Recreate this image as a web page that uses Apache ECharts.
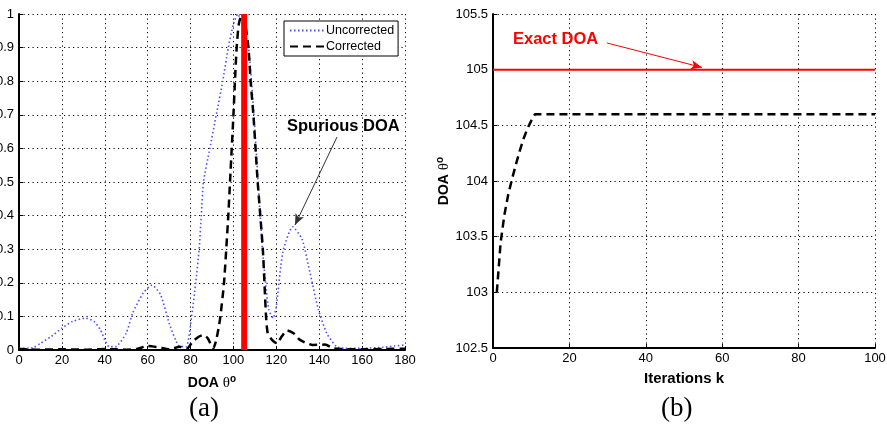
<!DOCTYPE html>
<html>
<head>
<meta charset="utf-8">
<script src="https://cdn.jsdelivr.net/npm/echarts@6/dist/echarts.min.js"></script>
<style>
  html, body { margin: 0; padding: 0; background: #fff; }
  #chart { width: 887px; height: 426px; }
</style>
</head>
<body>
<div id="chart"></div>
<script>
// (a) spectrum vs DOA angle
const uncorrAngles = [0, 5, 7, 10, 15, 20, 25, 31, 35, 38, 40, 42, 45, 50, 53, 58, 62, 66, 70, 73,
  75, 78, 80.5, 82.4, 84, 85, 86, 89, 92, 95, 97.6, 100, 102, 104, 107, 109, 111.5, 113.5, 115, 116.5,
  118.5, 120, 123, 127.6, 132, 135.7, 139.6, 143.5, 148, 152, 160, 170, 175, 180];
const uncorrValues = [0.005, 0.005, 0.008, 0.02, 0.04, 0.065, 0.085, 0.095, 0.085, 0.06, 0.03, 0.01, 0.01, 0.05, 0.11, 0.17, 0.193, 0.165, 0.08, 0.03,
  0.01, 0.01, 0.1, 0.2, 0.3, 0.4, 0.5, 0.6, 0.7, 0.8, 0.9, 0.97, 1.0, 0.97, 0.9, 0.75, 0.5, 0.3, 0.2, 0.12,
  0.095, 0.13, 0.29, 0.367, 0.33, 0.23, 0.12, 0.05, 0.01, 0.005, 0.005, 0.008, 0.012, 0.015];

const corrAngles = [0, 10, 20, 30, 40, 45, 50, 55, 60, 65, 70, 75, 78, 81, 84, 86, 88, 90.6, 92, 93.7,
  95.6, 97.6, 98.4, 99.2, 100, 100.7, 101.5, 102.5, 104, 105.5, 107, 108, 109.3, 110.3, 111.3, 113.7, 115.2, 116, 118, 120.2,
  122.5, 125, 128, 131, 137, 142.7, 146.6, 150, 160, 170, 180];
const corrValues = [0.003, 0.001, 0.002, 0.001, 0.003, 0.002, 0.001, 0.003, 0.012, 0.008, 0.002, 0.01, 0.002, 0.025, 0.04, 0.045, 0.035, 0.005, 0.03, 0.09,
  0.2, 0.4, 0.5, 0.6, 0.7, 0.8, 0.9, 0.97, 1.0, 0.97, 0.9, 0.8, 0.7, 0.6, 0.5, 0.3, 0.1, 0.05, 0.03, 0.02,
  0.04, 0.058, 0.05, 0.03, 0.015, 0.016, 0.005, 0.003, 0.002, 0.003, 0.004];

const exactDoa = 105;

// (b) DOA estimate vs iterations
const iterK = [1, 2, 3, 4, 5, 6, 7, 8, 9, 10, 11, 100];
const doaEst = [103, 103.45, 103.7, 103.88, 104.02, 104.15, 104.27, 104.38, 104.47, 104.54, 104.6, 104.6];
const iterRange = [0, 100];

const pairs = (xs, ys) => xs.map((x, i) => [x, ys[i]]);

const FONT = "Liberation Sans";
const gridDots = { show: true, lineStyle: { color: "#000", width: 1, type: [1.2, 3.3] } };
const solidAxis = { show: true, onZero: false, lineStyle: { color: "#000", width: 2 } };
const tick = { show: true, inside: true, length: 4, lineStyle: { color: "#000" } };

const nameRich = {
  b: { fontFamily: FONT, fontWeight: "bold", fontSize: 14, color: "#000" },
  t: { fontFamily: "Liberation Serif", fontSize: 15, color: "#000" },
  s: { fontFamily: FONT, fontWeight: "bold", fontSize: 10, color: "#000", padding: [0, 0, 8, 0] },
};

const chart = echarts.init(document.getElementById("chart"), null, { renderer: "canvas" });

const options = {
  backgroundColor: "#fff",
  animation: false,
  grid: [
    { left: 19, right: 482, top: 14, bottom: 76, containLabel: false, outerBoundsMode: "none" },
    { left: 493, right: 12, top: 14, bottom: 78, containLabel: false, outerBoundsMode: "none" },
  ],
  legend: {
    data: ["Uncorrected", "Corrected"],
    orient: "vertical",
    left: 284,
    top: 21,
    itemWidth: 35,
    itemHeight: 10,
    itemGap: 3,
    padding: [3, 4, 3, 5],
    borderColor: "#000",
    borderWidth: 1,
    backgroundColor: "#fff",
    itemStyle: { opacity: 0 },
    textStyle: { fontFamily: FONT, fontSize: 12.5, color: "#000", padding: [0, 0, 0, -4] },
  },
  xAxis: [
    {
      type: "value",
      gridIndex: 0,
      min: 0,
      max: 180,
      interval: 20,
      name: "{b|DOA }{t|θ}{s|o}",
      nameLocation: "middle",
      nameGap: 24,
      nameTextStyle: { rich: nameRich },
      axisLine: solidAxis,
      axisTick: tick,
      axisLabel: { fontFamily: FONT, fontSize: 13, color: "#000", margin: 4 },
      splitLine: gridDots,
    },
    {
      type: "value",
      gridIndex: 1,
      min: iterRange[0],
      max: iterRange[1],
      interval: 20,
      name: "Iterations k",
      nameLocation: "middle",
      nameGap: 23,
      nameTextStyle: { fontFamily: FONT, fontWeight: "bold", fontSize: 15, color: "#000" },
      axisLine: solidAxis,
      axisTick: tick,
      axisLabel: { fontFamily: FONT, fontSize: 13, color: "#000", margin: 4 },
      splitLine: gridDots,
    },
  ],
  yAxis: [
    {
      type: "value",
      gridIndex: 0,
      min: 0,
      max: 1,
      interval: 0.1,
      axisLine: solidAxis,
      axisTick: tick,
      axisLabel: { fontFamily: FONT, fontSize: 13, color: "#000", margin: 5 },
      splitLine: gridDots,
    },
    {
      type: "value",
      gridIndex: 1,
      min: 102.5,
      max: 105.5,
      interval: 0.5,
      name: "{b|DOA }{t|θ}{s|o}",
      nameLocation: "middle",
      nameGap: 40,
      nameRotate: 90,
      nameTextStyle: { rich: nameRich },
      axisLine: solidAxis,
      axisTick: tick,
      axisLabel: { fontFamily: FONT, fontSize: 13, color: "#000", margin: 5 },
      splitLine: gridDots,
    },
  ],
  series: [
    {
      name: "Uncorrected",
      type: "line",
      xAxisIndex: 0,
      yAxisIndex: 0,
      data: pairs(uncorrAngles, uncorrValues),
      showSymbol: false,
      symbol: "none",
      smooth: 0.2,
      lineStyle: { color: "#4d4dff", width: 1.6, type: [1.5, 2.5] },
      itemStyle: { color: "#4d4dff" },
      z: 3,
    },
    {
      name: "Corrected",
      type: "line",
      xAxisIndex: 0,
      yAxisIndex: 0,
      data: pairs(corrAngles, corrValues),
      showSymbol: false,
      symbol: "none",
      smooth: 0.2,
      lineStyle: { color: "#000", width: 2.5, type: [8, 5] },
      itemStyle: { color: "#000" },
      z: 4,
      markLine: {
        silent: true,
        symbol: ["none", "arrow"],
        symbolSize: [7, 11],
        label: { show: false },
        lineStyle: { color: "#333", width: 1, type: "solid" },
        data: [[{ coord: [148.3, 0.634] }, { coord: [128.7, 0.372] }]],
      },
    },
    {
      name: "Exact (a)",
      type: "line",
      xAxisIndex: 0,
      yAxisIndex: 0,
      data: [[exactDoa, 0], [exactDoa, 1]],
      showSymbol: false,
      symbol: "none",
      lineStyle: { color: "#ff0000", width: 6 },
      z: 6,
    },
    {
      name: "Exact (b)",
      type: "line",
      xAxisIndex: 1,
      yAxisIndex: 1,
      data: [[iterRange[0], exactDoa], [iterRange[1], exactDoa]],
      showSymbol: false,
      symbol: "none",
      lineStyle: { color: "#ff0000", width: 2 },
      z: 5,
      markLine: {
        silent: true,
        symbol: ["none", "arrow"],
        symbolSize: [7, 11],
        label: { show: false },
        lineStyle: { color: "#ff0000", width: 1, type: "solid" },
        data: [[{ coord: [29.8, 105.24] }, { coord: [54.7, 105.02] }]],
      },
    },
    {
      name: "Estimate",
      type: "line",
      xAxisIndex: 1,
      yAxisIndex: 1,
      data: pairs(iterK, doaEst),
      showSymbol: false,
      symbol: "none",
      lineStyle: { color: "#000", width: 2.5, type: [8, 5] },
      z: 4,
    },
  ],
  graphic: [
    {
      type: "text",
      left: 287,
      top: 118,
      style: { text: "Spurious DOA", font: "bold 16.5px 'Liberation Sans'", fill: "#000" },
    },
    {
      type: "text",
      left: 513,
      top: 31,
      style: { text: "Exact DOA", font: "bold 16.5px 'Liberation Sans'", fill: "#ff0000" },
    },
    {
      type: "text",
      left: 189,
      top: 395,
      style: { text: "(a)", font: "27px 'Liberation Serif'", fill: "#000" },
    },
    {
      type: "text",
      left: 661,
      top: 395,
      style: { text: "(b)", font: "27px 'Liberation Serif'", fill: "#000" },
    },
  ],
};

chart.setOption(options, true);
</script>
</body>
</html>
